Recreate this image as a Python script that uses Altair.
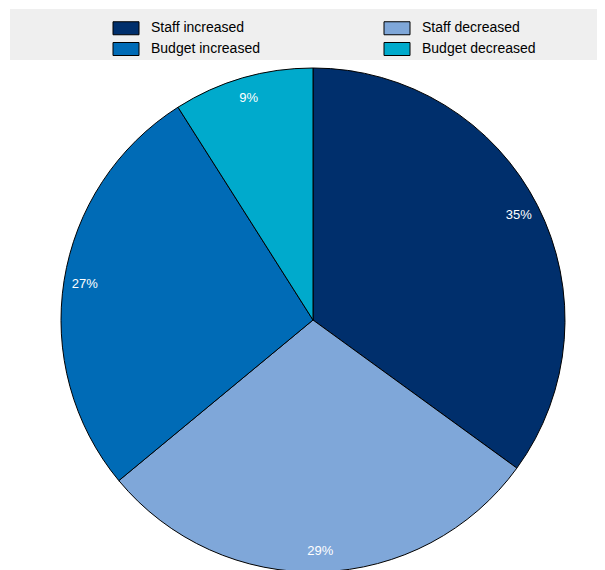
import altair as alt
import pandas as pd

categories = ["Staff increased", "Staff decreased", "Budget increased", "Budget decreased"]
values = [35, 29, 27, 9]
labels = ["35%", "29%", "27%", "9%"]
colors = ["#002F6C", "#7FA7D9", "#006BB6", "#00AACC"]

df = pd.DataFrame({
    "category": categories,
    "value": values,
    "label": labels,
    "idx": list(range(len(categories))),
})

FONT = "Liberation Sans"

base = alt.Chart(df)

band = alt.Chart(pd.DataFrame({"a": [0]})).mark_rect(color="#EFEFEF").encode(
    x=alt.value(2), x2=alt.value(620), y=alt.value(1), y2=alt.value(52)
)

pie = base.mark_arc(outerRadius=252, stroke="black", strokeWidth=1).encode(
    theta=alt.Theta("value:Q", stack=True),
    order=alt.Order("idx:Q"),
    color=alt.Color(
        "category:N",
        scale=alt.Scale(domain=categories, range=colors),
        legend=alt.Legend(
            title=None,
            orient="none",
            legendX=111,
            legendY=13,
            columns=2,
            direction="horizontal",
            symbolType="M-2,-1H2V1H-2Z",
            symbolSize=169,
            symbolStrokeColor="black",
            symbolStrokeWidth=1,
            symbolOpacity=1,
            labelFont=FONT,
            labelFontSize=14,
            labelColor="black",
            labelOffset=18,
            columnPadding=122,
            rowPadding=3,
            padding=0,
        ),
    ),
    x=alt.value(305),
    y=alt.value(312),
)

text = base.mark_text(radius=231, fontSize=13, font=FONT, color="white").encode(
    theta=alt.Theta("value:Q", stack=True),
    order=alt.Order("idx:Q"),
    detail="category:N",
    text="label:N",
    x=alt.value(305),
    y=alt.value(312),
)

chart = alt.layer(band, pie, text).properties(
    width=589, height=562, autosize=alt.AutoSizeParams(type="none"), padding=0
).configure_view(stroke=None)

chart.save("out.html", embed_options={"renderer": "svg", "actions": False})
